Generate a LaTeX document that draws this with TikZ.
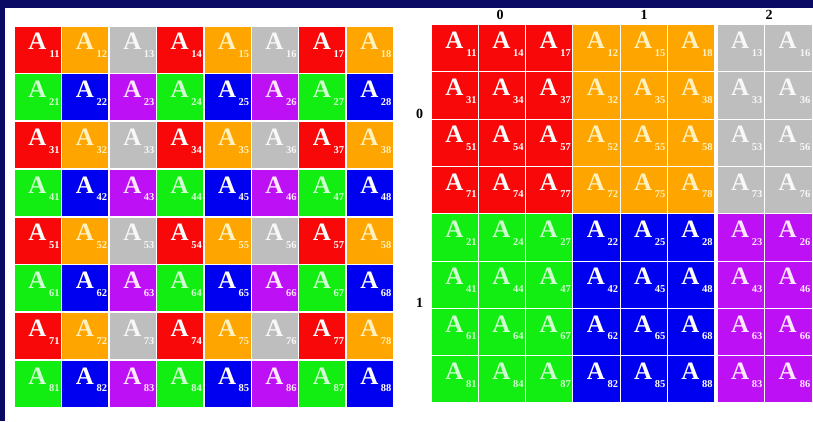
\documentclass[tikz,border=0pt]{standalone}
\usepackage{fontspec}
\setmainfont{Liberation Serif}
\definecolor{navy}{HTML}{0A0A64}
\definecolor{c10}{HTML}{F80808}
\definecolor{c11}{HTML}{FFA500}
\definecolor{c12}{HTML}{BEBEBE}
\definecolor{c00}{HTML}{12EE12}
\definecolor{c01}{HTML}{0000F0}
\definecolor{c02}{HTML}{BE10F5}
\definecolor{t10}{HTML}{FFFFFF}
\definecolor{t11}{HTML}{FFF2C0}
\definecolor{t12}{HTML}{F8F8F8}
\definecolor{t00}{HTML}{D2FFD2}
\definecolor{t01}{HTML}{FFFFFF}
\definecolor{t02}{HTML}{FFE8FF}
\tikzset{
  cellbox/.style={rectangle, inner sep=0pt, outer sep=0pt, anchor=north west},
  bigA/.style={font=\fontsize{25}{25}\selectfont\bfseries, inner sep=0pt, anchor=base},
  subnum/.style={font=\fontsize{10.5}{10.5}\selectfont\bfseries, inner sep=0pt, anchor=base east},
  blocklabel/.style={font=\fontsize{14}{14}\selectfont\bfseries, inner sep=0pt}
}
\newcommand{\mkcell}[8]{%
  \node[cellbox, fill=c#6#7, minimum width=#4pt, minimum height=#5pt] (#1) at (#2,#3) {};
  \node[bigA, text=t#6#7] (#1-A) at ([xshift=-0.5pt,yshift=-23.3pt]#1.north) {A};
  \node[subnum, text=t#6#7] (#1-s) at ([xshift=-1.2pt,yshift=-31pt]#1.north east) {#8};
}
\begin{document}
\begin{tikzpicture}[x=1pt,y=-1pt]
\useasboundingbox (0,0) rectangle (813,421);
\fill[navy] (0,0) rectangle (813,421);
\fill[white] (5,8) rectangle (813,421);
% left matrix
\foreach \i in {1,...,8}{
  \foreach \j in {1,...,8}{
    \pgfmathtruncatemacro\rp{mod(\i,2)}
    \pgfmathtruncatemacro\cp{mod(\j-1,3)}
    \pgfmathsetmacro\xx{15+(\j-1)*47.4}
    \pgfmathsetmacro\yy{26.5+(\i-1)*47.75}
    \mkcell{L\i\j}{\xx}{\yy}{46}{46.2}{\rp}{\cp}{\i\j}
  }
}
% right matrix (distributed)
\foreach \r/\i/\yy in {0/1/25, 1/3/72.3, 2/5/119.6, 3/7/166.9, 4/2/214.2, 5/4/261.5, 6/6/308.8, 7/8/356.1}{
  \foreach \c/\j/\xx/\ww in {0/1/431.7/46.2, 1/4/478.9/46.2, 2/7/526.1/46.2, 3/2/573.3/46.2, 4/5/620.5/46.2, 5/8/667.7/46.2, 6/3/717.7/46, 7/6/764.7/47}{
    \pgfmathtruncatemacro\rp{mod(\i,2)}
    \pgfmathtruncatemacro\cp{mod(\j-1,3)}
    \mkcell{R\i\j}{\xx}{\yy}{\ww}{46.3}{\rp}{\cp}{\i\j}
  }
}
% process grid labels
\node[blocklabel] (pc0) at (500,15) {0};
\node[blocklabel] (pc1) at (644,15) {1};
\node[blocklabel] (pc2) at (769,15) {2};
\node[blocklabel] (pr0) at (419.5,114) {0};
\node[blocklabel] (pr1) at (419.5,303) {1};
\end{tikzpicture}
\end{document}
